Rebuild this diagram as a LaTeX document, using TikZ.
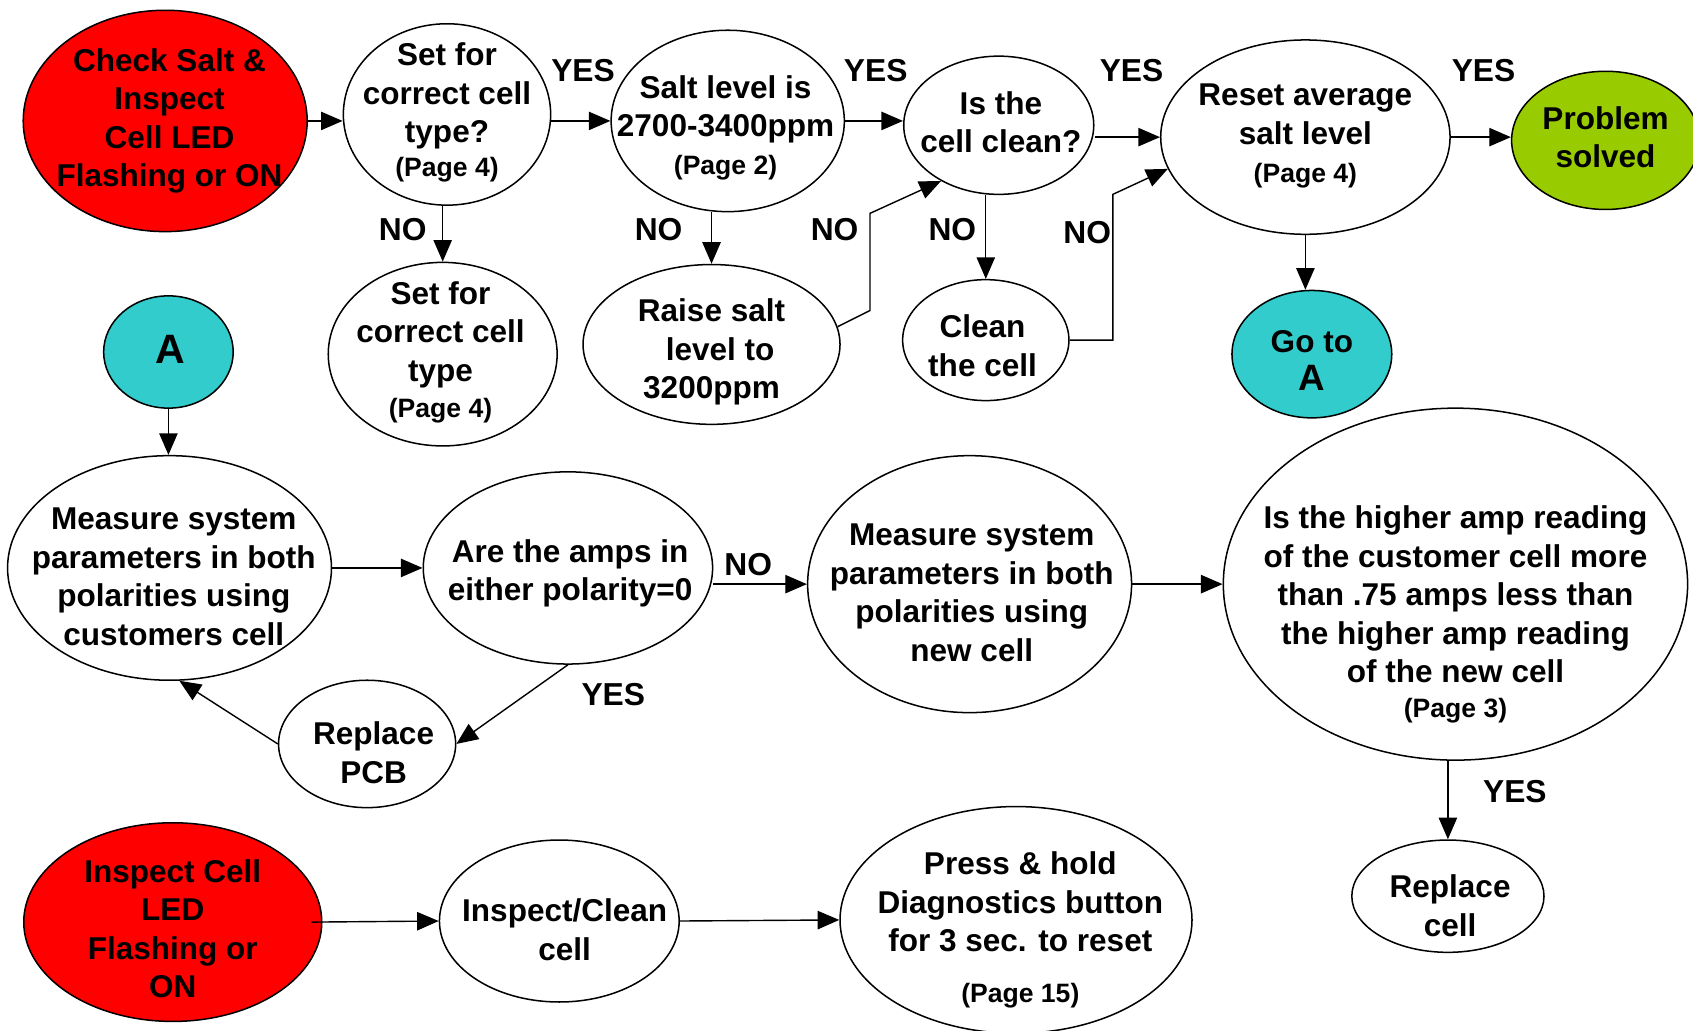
\documentclass[tikz,border=0pt]{standalone}
\usepackage{fontspec}
\setmainfont{Liberation Sans}
\usetikzlibrary{shapes.geometric,arrows.meta}

\definecolor{ledred}{RGB}{255,0,0}
\definecolor{goteal}{RGB}{51,204,204}
\definecolor{okgreen}{RGB}{153,204,0}

\newcommand\pg[1]{{\fontsize{24.6}{28}\selectfont(Page #1)}}

\begin{document}
\begin{tikzpicture}
    [x=1pt,y=-1pt,
    bubble/.style={ellipse,draw=black,line width=1.4pt,fill=white,inner sep=0pt},
    txt/.style={font=\bfseries\fontsize{29.2}{35.7}\selectfont,align=center,inner sep=0pt},
    lbl/.style={font=\bfseries\fontsize{29.4}{35}\selectfont,inner sep=0pt},
    arr/.style={line width=1.3pt,-{Triangle[length=20pt,width=17pt]}}]

    \useasboundingbox (0,0) rectangle (1568,954);

    % first row
    \node[bubble,fill=ledred,minimum width=263pt,minimum height=205pt,
      label={[txt,xshift=4pt,yshift=0pt]center:{Check Salt \&\\Inspect\\Cell LED\\Flashing or ON}}] (check) at (153,112) {};
    \node[bubble,minimum width=192pt,minimum height=168pt,
      label={[txt,yshift=2pt]center:{Set for\\correct cell\\type?\\[-4.5pt]\pg{4}}}] (setq) at (414,106) {};
    \node[bubble,minimum width=216pt,minimum height=168pt,
      label={[txt,xshift=-2pt,yshift=-6pt]center:{Salt level is\\2700-3400ppm\\[-1pt]\pg{2}}}] (salt) at (674,112) {};
    \node[bubble,minimum width=176pt,minimum height=128pt,
      label={[txt,xshift=2pt,yshift=3pt]center:{Is the\\cell clean?}}] (cleanq) at (925,116) {};
    \node[bubble,minimum width=268pt,minimum height=180pt,
      label={[txt,yshift=1pt]center:{Reset average\\salt level\\\pg{4}}}] (reset) at (1209,127) {};
    \node[bubble,fill=okgreen,minimum width=174pt,minimum height=128pt,
      label={[txt,yshift=3pt]center:{Problem\\solved}}] (solved) at (1487,130) {};

    % second row
    \node[bubble,minimum width=212pt,minimum height=170pt,
      label={[txt,xshift=-2pt,yshift=2pt]center:{Set for\\correct cell\\type\\[-2.5pt]\pg{4}}}] (setlow) at (410,328) {};
    \node[bubble,minimum width=238pt,minimum height=148pt,
      label={[txt,yshift=-7pt]center:{Raise salt\\\hspace*{16pt}level to\\3200ppm}}] (raise) at (659,319) {};
    \node[bubble,minimum width=154pt,minimum height=112pt,
      label={[txt,xshift=-3pt,yshift=-5pt]center:{Clean\\the cell}}] (clean) at (913,315) {};
    \node[bubble,fill=goteal,minimum width=148pt,minimum height=118pt,
      label={[txt,yshift=-6pt]center:{Go to\\{\fontsize{34}{40}\selectfont A}}}] (goA) at (1215,328) {};
    \node[bubble,fill=goteal,minimum width=120pt,minimum height=104pt,
      label={[txt,xshift=2pt,yshift=2pt]center:{\fontsize{38}{44}\selectfont A}}] (A) at (156,326) {};

    % amps check
    \node[bubble,minimum width=300pt,minimum height=208pt,
      label={[txt,xshift=4pt,yshift=-8pt]center:{Measure system\\parameters in both\\polarities using\\customers cell}}] (meas1) at (157,526) {};
    \node[bubble,minimum width=268pt,minimum height=178pt,
      label={[txt,xshift=2pt,yshift=-5pt]center:{Are the amps in\\either polarity=0}}] (amps) at (526,526) {};
    \node[bubble,minimum width=164pt,minimum height=118pt,
      label={[txt,xshift=6pt,yshift=-8pt]center:{Replace\\PCB}}] (pcb) at (340,689) {};
    \node[bubble,minimum width=300pt,minimum height=238pt,
      label={[txt,xshift=2pt,yshift=-8pt]center:{Measure system\\parameters in both\\polarities using\\new cell}}] (meas2) at (898,541) {};
    \node[bubble,minimum width=430pt,minimum height=326pt,
      label={[txt,yshift=-28pt]center:{Is the higher amp reading\\of the customer cell more\\than .75 amps less than\\the higher amp reading\\of the new cell\\[-4pt]\pg{3}}}] (hi) at (1348,541) {};
    \node[bubble,minimum width=178pt,minimum height=104pt,
      label={[txt,xshift=2pt,yshift=-9pt]center:{Replace\\cell}}] (rcell) at (1341,830) {};

    % bottom row
    \node[bubble,fill=ledred,minimum width=276pt,minimum height=184pt,
      label={[txt,yshift=-6pt]center:{Inspect Cell\\LED\\Flashing or\\ON}}] (led) at (160,854) {};
    \node[bubble,minimum width=222pt,minimum height=150pt,
      label={[txt,xshift=5pt,yshift=-8pt]center:{Inspect/Clean\\cell}}] (ic) at (518,853) {};
    \node[bubble,minimum width=326pt,minimum height=210pt,
      label={[txt,xshift=4pt,yshift=-9pt]center:{Press \& hold\\Diagnostics button\\for 3 sec. to reset\\[11pt]\pg{15}}}] (press) at (941,852) {};

    % answers
    \node[lbl] (yes1) at (540,65) {YES};
    \node[lbl] (yes2) at (811,65) {YES};
    \node[lbl] (yes3) at (1048,65) {YES};
    \node[lbl] (yes4) at (1374,65) {YES};
    \node[lbl] (no1) at (373,213) {NO};
    \node[lbl] (no2) at (610,213) {NO};
    \node[lbl] (no3) at (773,213) {NO};
    \node[lbl] (no4) at (882,213) {NO};
    \node[lbl] (no5) at (1007,215) {NO};
    \node[lbl] (no6) at (693,523) {NO};
    \node[lbl] (yes5) at (568,643) {YES};
    \node[lbl] (yes6) at (1403,733) {YES};

    % connectors
    \draw[arr] (check.east) -- (check.east -| setq.west);
    \draw[arr] (salt.west -| setq.east) -- (salt.west);
    \draw[arr] (salt.east) -- (salt.east -| cleanq.west);
    \draw[arr] (reset.west -| cleanq.east) -- (reset.west);
    \draw[arr] (reset.east) -- (reset.east -| solved.west);
    \draw[arr] (setlow.north |- setq.south) -- (setlow.north);
    \draw[arr] (raise.north |- salt.south) -- (raise.north);
    \draw[arr] (raise.8) -- ++(30,-15) -- ++(0,-90) -- (cleanq.224);
    \draw[arr] (clean.north |- cleanq.south) -- (clean.north);
    \draw[arr] (clean.east) -- ++(40,0) -- ++(0,-135) -- (reset.193);
    \draw[arr] (reset.south) -- (reset.south |- goA.north);
    \draw[arr] (A.south) -- (A.south |- meas1.north);
    \draw[arr] (meas1.east) -- (amps.west);
    \draw[arr] (meas2.west -| amps.east) -- (meas2.west);
    \draw[arr] (amps.south) -- (pcb.east);
    \draw[arr] (pcb.west) -- (meas1.-85);
    \draw[arr] (meas2.east) -- (hi.west);
    \draw[arr] (rcell.north |- hi.south) -- (rcell.north);
    \draw[arr] ([xshift=-10pt]led.east) -- (ic.west);
    \draw[arr] (ic.east) -- (press.west);
\end{tikzpicture}
\end{document}
